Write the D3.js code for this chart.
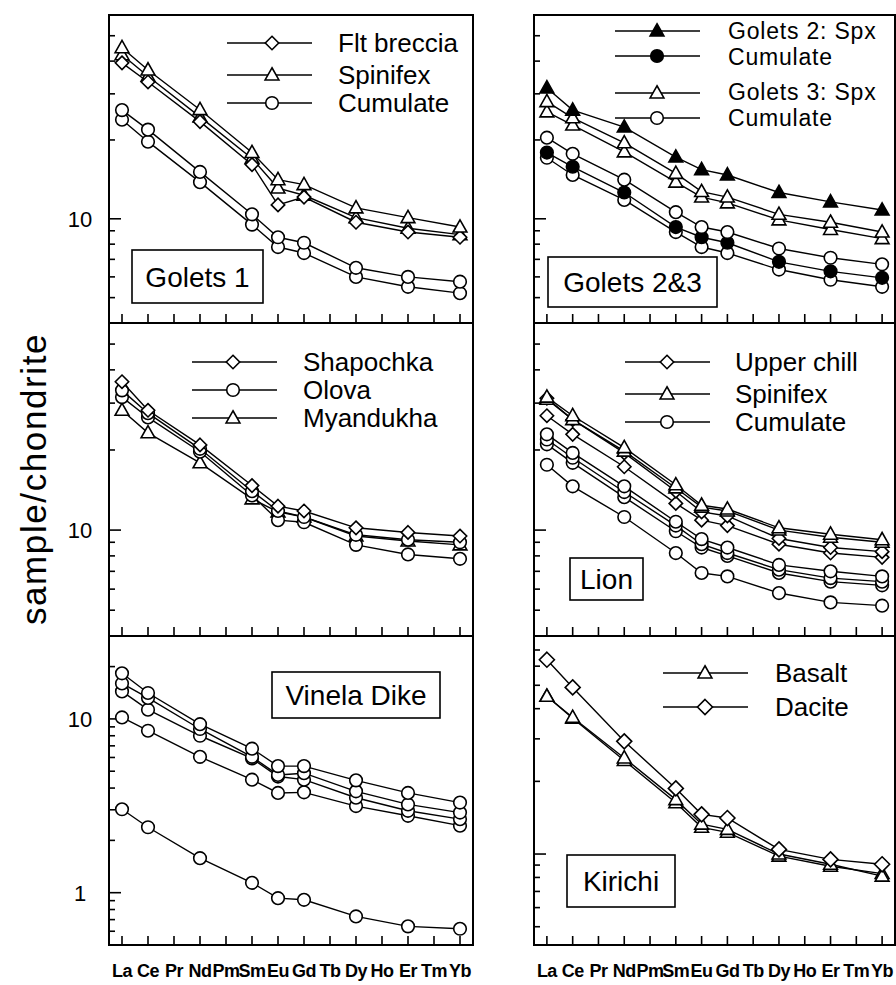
<!DOCTYPE html>
<html>
<head>
<meta charset="utf-8">
<script src="https://cdn.jsdelivr.net/npm/d3@7"></script>
<style>
  body { margin: 0; background: #fff; }
  svg { display: block; }
  text { font-family: "Liberation Sans", Arial, Helvetica, sans-serif; fill: #000; }
</style>
</head>
<body>
<svg id="chart" width="896" height="985"></svg>
<script>
// Rare earth elements along the x axis, and those actually analysed
const REE = ["La", "Ce", "Pr", "Nd", "Pm", "Sm", "Eu", "Gd", "Tb", "Dy", "Ho", "Er", "Tm", "Yb"];
const analysed = ["La", "Ce", "Nd", "Sm", "Eu", "Gd", "Dy", "Er", "Yb"];

// Golets 1
const g1FltBreccia = [39.4, 33.3, 23.5, 16.1, 11.3, 12.1, 9.7, 8.9, 8.5];
const g1Spinifex1  = [45.0, 37.0, 26.1, 17.9, 14.1, 13.5, 11.0, 10.1, 9.3];
const g1Spinifex2  = [42.3, 35.0, 24.5, 17.0, 13.1, 12.3, 10.1, 9.2, 8.7];
const g1Cumulate1  = [26.0, 21.9, 15.1, 10.4, 8.5, 8.1, 6.5, 6.0, 5.75];
const g1Cumulate2  = [23.9, 19.7, 13.8, 9.5, 7.8, 7.4, 6.0, 5.5, 5.2];

// Golets 2 & 3
const g2Spinifex  = [31.6, 26.0, 22.4, 17.2, 15.4, 14.7, 12.6, 11.6, 10.8];
const g2Cumulate  = [17.9, 15.8, 12.6, 9.3, 8.5, 8.1, 6.85, 6.3, 5.95];
const g3Spinifex1 = [28.0, 24.3, 19.5, 14.9, 12.7, 12.1, 10.4, 9.7, 8.9];
const g3Spinifex2 = [25.6, 22.8, 18.0, 13.8, 12.1, 11.5, 9.9, 9.1, 8.4];
const g3Cumulate1 = [20.4, 17.7, 14.1, 10.6, 9.3, 8.9, 7.7, 7.1, 6.7];
const g3Cumulate2 = [17.1, 14.7, 11.8, 8.9, 7.8, 7.4, 6.4, 5.85, 5.5];

// Shapochka, Olova, Myandukha
const shapochka = [36.1, 28.2, 20.9, 14.7, 12.3, 11.8, 10.2, 9.8, 9.5];
const olova1    = [33.5, 27.5, 20.2, 14.0, 11.8, 11.2, 9.6, 9.2, 9.0];
const olova2    = [31.6, 26.5, 19.7, 13.5, 10.9, 10.7, 8.8, 8.1, 7.8];
const myandukha = [28.2, 23.2, 17.9, 13.1, 11.7, 11.2, 9.5, 9.1, 8.8];

// Lion
const lionSpinifex1   = [31.6, 26.9, 20.4, 14.8, 12.4, 12.0, 10.2, 9.65, 9.2];
const lionSpinifex2   = [31.0, 26.0, 19.8, 14.4, 12.2, 11.8, 10.0, 9.4, 9.0];
const lionUpperChill1 = [31.3, 26.0, 19.5, 14.0, 11.7, 11.3, 9.3, 8.6, 8.3];
const lionUpperChill2 = [26.9, 22.9, 17.3, 12.6, 10.9, 10.4, 8.85, 8.2, 7.9];
const lionCumulate1   = [22.9, 19.5, 14.6, 10.75, 9.25, 8.6, 7.4, 7.0, 6.7];
const lionCumulate2   = [21.9, 18.7, 13.9, 10.4, 8.85, 8.2, 7.1, 6.6, 6.4];
const lionCumulate3   = [21.0, 17.9, 13.3, 9.9, 8.6, 8.0, 6.9, 6.4, 6.2];
const lionCumulate4   = [17.6, 14.6, 11.2, 8.2, 6.9, 6.7, 5.8, 5.35, 5.2];

// Vinela Dike
const vinela1 = [18.3, 14.1, 9.33, 6.74, 5.35, 5.35, 4.43, 3.75, 3.30];
const vinela2 = [16.0, 13.2, 8.75, 6.05, 4.76, 4.87, 3.83, 3.22, 2.89];
const vinela3 = [14.4, 11.3, 8.0, 5.92, 4.66, 4.47, 3.52, 2.96, 2.65];
const vinela4 = [10.2, 8.55, 6.05, 4.47, 3.75, 3.78, 3.15, 2.77, 2.43];
const vinela5 = [3.02, 2.38, 1.58, 1.14, 0.93, 0.91, 0.73, 0.64, 0.62];

// Kirichi
const kirichiBasalt1 = [45.0, 36.8, 25.0, 16.8, 13.3, 12.65, 10.0, 9.07, 8.1];
const kirichiBasalt2 = [45.0, 36.5, 24.4, 16.3, 12.9, 12.3, 9.8, 8.9, 8.3];
const kirichiDacite  = [63.8, 49.0, 29.3, 18.7, 14.6, 14.1, 10.45, 9.5, 9.07];

// y-axis ranges of the three rows (log scale)
const rangeUpper   = [4, 60];
const rangeVinela  = [0.5, 30];
const rangeKirichi = [4.2, 80];

// ---------- layout ----------
const columns = [{ x0: 109, x1: 473 }, { x0: 534, x1: 895 }];
const rowEdges = [15, 323, 636, 945];

const panels = [
  { col: 0, row: 0, domain: rangeUpper,
    label: { text: "Golets 1", x: 23, y: 235, w: 131, h: 53 },
    series: [
      { v: g1Cumulate2, m: "circle" }, { v: g1Cumulate1, m: "circle" },
      { v: g1Spinifex2, m: "triangle" }, { v: g1FltBreccia, m: "diamond" },
      { v: g1Spinifex1, m: "triangle" }
    ],
    legend: { x1: 118, x2: 203, mx: 163, tx: 229, size: 26,
      keys: [ { m: "diamond", y: 28 }, { m: "triangle", y: 60 }, { m: "circle", y: 88 } ],
      texts: [ { lines: ["Flt breccia"], y: 28 }, { lines: ["Spinifex"], y: 60 }, { lines: ["Cumulate"], y: 88 } ] } },
  { col: 1, row: 0, domain: rangeUpper,
    label: { text: "Golets 2&3", x: 14, y: 242, w: 169, h: 50 },
    series: [
      { v: g3Cumulate2, m: "circle" }, { v: g2Cumulate, m: "circle", filled: true },
      { v: g3Cumulate1, m: "circle" }, { v: g3Spinifex2, m: "triangle" },
      { v: g3Spinifex1, m: "triangle" }, { v: g2Spinifex, m: "triangle", filled: true }
    ],
    legend: { x1: 81, x2: 166, mx: 123, tx: 194, size: 23, spacing: 0.8,
      keys: [ { m: "triangle", filled: true, y: 16 }, { m: "circle", filled: true, y: 41 },
              { m: "triangle", y: 78 }, { m: "circle", y: 103 } ],
      texts: [ { lines: ["Golets 2: Spx", "Cumulate"], y: 16, gap: 26 },
               { lines: ["Golets 3: Spx", "Cumulate"], y: 77, gap: 26 } ] } },
  { col: 0, row: 1, domain: rangeUpper,
    label: null,
    series: [
      { v: myandukha, m: "triangle" }, { v: olova2, m: "circle" },
      { v: olova1, m: "circle" }, { v: shapochka, m: "diamond" }
    ],
    legend: { x1: 83, x2: 168, mx: 124, tx: 194, size: 26,
      keys: [ { m: "diamond", y: 39 }, { m: "circle", y: 67 }, { m: "triangle", y: 95 } ],
      texts: [ { lines: ["Shapochka"], y: 39 }, { lines: ["Olova"], y: 67 }, { lines: ["Myandukha"], y: 95 } ] } },
  { col: 1, row: 1, domain: rangeUpper,
    label: { text: "Lion", x: 36, y: 235, w: 73, h: 42 },
    series: [
      { v: lionCumulate4, m: "circle" }, { v: lionCumulate3, m: "circle" },
      { v: lionCumulate2, m: "circle" }, { v: lionCumulate1, m: "circle" },
      { v: lionUpperChill2, m: "diamond" }, { v: lionUpperChill1, m: "diamond" },
      { v: lionSpinifex2, m: "triangle" }, { v: lionSpinifex1, m: "triangle" }
    ],
    legend: { x1: 91, x2: 176, mx: 133, tx: 201, size: 26,
      keys: [ { m: "diamond", y: 39 }, { m: "triangle", y: 71 }, { m: "circle", y: 99 } ],
      texts: [ { lines: ["Upper chill"], y: 39 }, { lines: ["Spinifex"], y: 71 }, { lines: ["Cumulate"], y: 99 } ] } },
  { col: 0, row: 2, domain: rangeVinela,
    label: { text: "Vinela Dike", x: 163, y: 36, w: 168, h: 46 },
    series: [
      { v: vinela5, m: "circle" }, { v: vinela4, m: "circle" },
      { v: vinela3, m: "circle" }, { v: vinela2, m: "circle" },
      { v: vinela1, m: "circle" }
    ],
    legend: null },
  { col: 1, row: 2, domain: rangeKirichi,
    label: { text: "Kirichi", x: 33, y: 219, w: 108, h: 52 },
    series: [
      { v: kirichiBasalt2, m: "triangle" }, { v: kirichiBasalt1, m: "triangle" },
      { v: kirichiDacite, m: "diamond", size: 7.5 }
    ],
    legend: { x1: 129, x2: 214, mx: 171, tx: 241, size: 26,
      keys: [ { m: "triangle", y: 37 }, { m: "diamond", y: 71, size: 7.5 } ],
      texts: [ { lines: ["Basalt"], y: 37 }, { lines: ["Dacite"], y: 71 } ] } }
];

const svg = d3.select("#chart");

// marker outlines centred on the data point
function markerPath(kind, s) {
  if (kind === "circle") {
    const p = d3.path(); p.arc(0, 0, s, 0, 2 * Math.PI); p.closePath(); return p.toString();
  }
  if (kind === "diamond") {
    return `M0,${-s}L${s},0L0,${s}L${-s},0Z`;
  }
  // upward triangle
  return `M0,${-s * 1.05}L${s},${s * 0.72}L${-s},${s * 0.72}Z`;
}
const markerSize = { circle: 6.3, diamond: 6.7, triangle: 6.9 };

function drawMarker(g, kind, filled, x, y, size) {
  g.append("path")
    .attr("d", markerPath(kind, size || markerSize[kind]))
    .attr("transform", `translate(${x},${y})`)
    .attr("fill", filled ? "#000" : "#fff")
    .attr("stroke", "#000")
    .attr("stroke-width", 1.6);
}

panels.forEach(p => {
  const col = columns[p.col];
  const top = rowEdges[p.row], bottom = rowEdges[p.row + 1];
  const x = d3.scalePoint().domain(REE).range([col.x0, col.x1]).padding(0.5);
  const y = d3.scaleLog().domain(p.domain).range([bottom, top]);
  const g = svg.append("g");

  // y ticks on the left axis, pointing inwards
  y.ticks().forEach(t => {
    const yy = y(t);
    if (yy < top + 1 || yy > bottom - 1) return;
    const major = Math.abs(Math.log10(t) - Math.round(Math.log10(t))) < 1e-9;
    g.append("line")
      .attr("x1", col.x0).attr("x2", col.x0 + (major ? 12 : 6))
      .attr("y1", yy).attr("y2", yy)
      .attr("stroke", "#000").attr("stroke-width", 1.6);
    if (major && p.col === 0) {
      g.append("text")
        .attr("x", 80).attr("y", yy + 8)
        .attr("text-anchor", "middle")
        .attr("font-size", 22)
        .text(d3.format("d")(t));
    }
  });

  // x ticks along the bottom, pointing inwards
  REE.forEach(el => {
    g.append("line")
      .attr("x1", x(el)).attr("x2", x(el))
      .attr("y1", bottom).attr("y2", bottom - 9)
      .attr("stroke", "#000").attr("stroke-width", 1.6);
  });

  // series: connecting line, then markers
  const line = d3.line().x((d, i) => x(analysed[i])).y(d => y(d));
  p.series.forEach(s => {
    g.append("path")
      .attr("d", line(s.v))
      .attr("fill", "none")
      .attr("stroke", "#000")
      .attr("stroke-width", 1.4);
    s.v.forEach((d, i) => drawMarker(g, s.m, s.filled, x(analysed[i]), y(d), s.size));
  });

  // legend: key lines with markers, then the (possibly two-line) captions
  if (p.legend) {
    const L = p.legend;
    L.keys.forEach(k => {
      const yy = top + k.y;
      g.append("line")
        .attr("x1", col.x0 + L.x1).attr("x2", col.x0 + L.x2)
        .attr("y1", yy).attr("y2", yy)
        .attr("stroke", "#000").attr("stroke-width", 1.4);
      drawMarker(g, k.m, k.filled, col.x0 + L.mx, yy, k.size);
    });
    L.texts.forEach(t => {
      const txt = g.append("text")
        .attr("x", col.x0 + L.tx).attr("y", top + t.y + L.size * 0.35)
        .attr("font-size", L.size)
        .attr("letter-spacing", L.spacing || 0);
      t.lines.forEach((ln, i) => {
        txt.append("tspan")
          .attr("x", col.x0 + L.tx)
          .attr("dy", i === 0 ? 0 : t.gap)
          .text(ln);
      });
    });
  }

  // boxed panel name
  if (p.label) {
    const b = p.label;
    g.append("rect")
      .attr("x", col.x0 + b.x).attr("y", top + b.y)
      .attr("width", b.w).attr("height", b.h)
      .attr("fill", "#fff").attr("stroke", "#000").attr("stroke-width", 1.6);
    g.append("text")
      .attr("x", col.x0 + b.x + b.w / 2).attr("y", top + b.y + b.h / 2 + 10)
      .attr("text-anchor", "middle")
      .attr("font-size", 28)
      .text(b.text);
  }

  // panel frame
  g.append("rect")
    .attr("x", col.x0).attr("y", top)
    .attr("width", col.x1 - col.x0).attr("height", bottom - top)
    .attr("fill", "none").attr("stroke", "#000").attr("stroke-width", 2);
});

// element names under each column
columns.forEach(col => {
  const x = d3.scalePoint().domain(REE).range([col.x0, col.x1]).padding(0.5);
  svg.append("g").selectAll("text").data(REE).join("text")
    .attr("x", d => x(d)).attr("y", 977)
    .attr("text-anchor", "middle")
    .attr("font-size", 18)
    .attr("font-weight", "bold")
    .attr("letter-spacing", -0.5)
    .text(d => d);
});

// shared y-axis title
svg.append("text")
  .attr("transform", "translate(46,479) rotate(-90)")
  .attr("text-anchor", "middle")
  .attr("font-size", 35)
  .attr("letter-spacing", 1.6)
  .text("sample/chondrite");
</script>
</body>
</html>
